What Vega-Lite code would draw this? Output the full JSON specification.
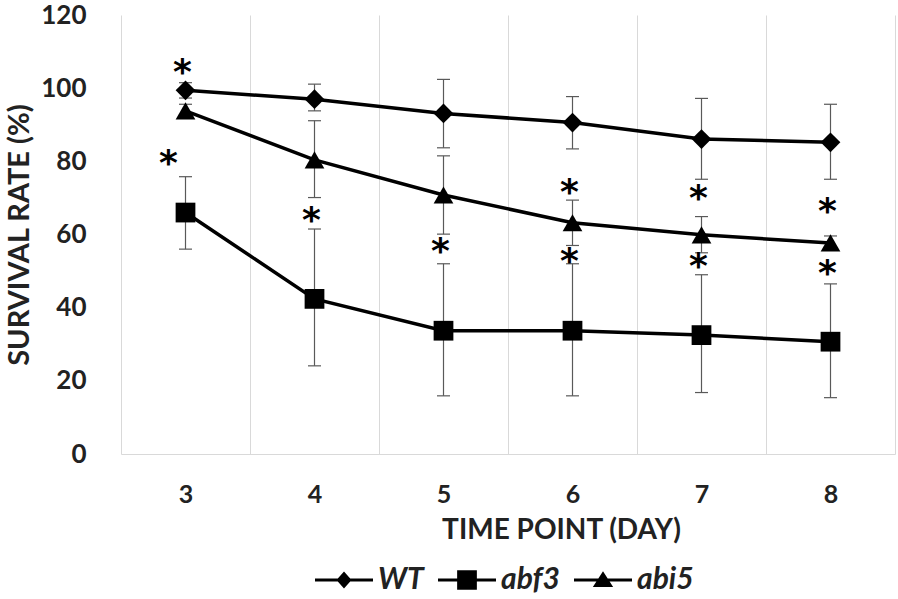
{
  "$schema": "https://vega.github.io/schema/vega-lite/v6.json",
  "width": 774,
  "height": 439,
  "autosize": {"type": "none"},
  "padding": {"left": 121, "top": 15, "right": 3, "bottom": 145},
  "background": "white",
  "config": {"view": {"stroke": null}, "font": "Lato"},
  "datasets": {
    "rates": [
      {"series": "WT", "day": 3, "mean": 99.4, "lo": 97.3, "hi": 101.5},
      {"series": "WT", "day": 4, "mean": 97.0, "lo": 93.8, "hi": 101.1},
      {"series": "WT", "day": 5, "mean": 93.1, "lo": 83.7, "hi": 102.4},
      {"series": "WT", "day": 6, "mean": 90.6, "lo": 83.4, "hi": 97.7},
      {"series": "WT", "day": 7, "mean": 86.1, "lo": 75.1, "hi": 97.2},
      {"series": "WT", "day": 8, "mean": 85.2, "lo": 75.1, "hi": 95.6},
      {"series": "abf3", "day": 3, "mean": 66.0, "lo": 56.0, "hi": 75.8},
      {"series": "abf3", "day": 4, "mean": 42.4, "lo": 24.1, "hi": 61.5},
      {"series": "abf3", "day": 5, "mean": 33.7, "lo": 15.9, "hi": 52.0},
      {"series": "abf3", "day": 6, "mean": 33.7, "lo": 15.9, "hi": 52.0},
      {"series": "abf3", "day": 7, "mean": 32.5, "lo": 16.8, "hi": 49.0},
      {"series": "abf3", "day": 8, "mean": 30.7, "lo": 15.4, "hi": 46.5},
      {"series": "abi5", "day": 3, "mean": 93.8, "lo": 91.8, "hi": 95.6},
      {"series": "abi5", "day": 4, "mean": 80.4, "lo": 70.1, "hi": 91.1},
      {"series": "abi5", "day": 5, "mean": 70.8, "lo": 60.1, "hi": 81.5},
      {"series": "abi5", "day": 6, "mean": 63.2, "lo": 57.0, "hi": 69.4},
      {"series": "abi5", "day": 7, "mean": 59.9, "lo": 55.0, "hi": 64.9},
      {"series": "abi5", "day": 8, "mean": 57.7, "lo": 55.8, "hi": 59.6}
    ],
    "stars": [
      {"day": 3, "value": 106.6, "side": "near"},
      {"day": 3, "value": 81.7, "side": "left"},
      {"day": 4, "value": 66.2, "side": "near"},
      {"day": 5, "value": 57.8, "side": "near"},
      {"day": 6, "value": 73.8, "side": "near"},
      {"day": 6, "value": 55.0, "side": "near"},
      {"day": 7, "value": 72.2, "side": "near"},
      {"day": 7, "value": 53.6, "side": "near"},
      {"day": 8, "value": 68.7, "side": "near"},
      {"day": 8, "value": 51.7, "side": "near"}
    ]
  },
  "resolve": {"scale": {"shape": "independent"}, "legend": {"shape": "independent"}},
  "layer": [
    {
      "data": {"name": "rates"},
      "mark": {"type": "rule", "color": "#595959", "strokeWidth": 1.2},
      "encoding": {
        "x": {
          "field": "day", "type": "quantitative",
          "scale": {"domain": [2.5, 8.5], "nice": false, "zero": false},
          "axis": {
            "values": [2.5, 3, 3.5, 4, 4.5, 5, 5.5, 6, 6.5, 7, 7.5, 8, 8.5],
            "labelExpr": "datum.value % 1 === 0 ? '' + datum.value : ''",
            "labelOverlap": false,
            "labelFlush": false,
            "grid": true,
            "gridColor": "#d9d9d9",
            "gridWidth": 1,
            "gridOpacity": {"condition": {"test": "datum.value % 1 === 0", "value": 0}, "value": 1},
            "ticks": false,
            "domainColor": "#d9d9d9",
            "domainWidth": 1,
            "labelFont": "Lato",
            "labelFontSize": 25,
            "labelFontWeight": "bold",
            "labelColor": "#222222",
            "labelPadding": 28,
            "title": "TIME POINT (DAY)",
            "titleFont": "Lato",
            "titleFontSize": 28,
            "titleFontWeight": "bold",
            "titleColor": "#222222",
            "titlePadding": 9,
            "titleX": 440,
            "titleAlign": "center"
          }
        },
        "y": {
          "field": "lo", "type": "quantitative",
          "scale": {"domain": [0, 120], "nice": false},
          "axis": {
            "values": [0, 20, 40, 60, 80, 100, 120],
            "grid": false,
            "domain": false,
            "ticks": false,
            "labelFlush": false,
            "labelAlign": "right",
            "labelBaseline": "middle",
            "labelFont": "Lato",
            "labelFontSize": 26,
            "labelFontWeight": "bold",
            "labelColor": "#222222",
            "labelPadding": 35,
            "title": "SURVIVAL RATE (%)",
            "titleFont": "Lato",
            "titleFontSize": 29,
            "titleFontWeight": "bold",
            "titleColor": "#222222",
            "titlePadding": 6
          }
        },
        "y2": {"field": "hi"}
      }
    },
    {
      "data": {"name": "rates"},
      "mark": {"type": "tick", "orient": "horizontal", "color": "#595959", "size": 13, "thickness": 1.2, "opacity": 1},
      "encoding": {
        "x": {"field": "day", "type": "quantitative"},
        "y": {"field": "lo", "type": "quantitative"}
      }
    },
    {
      "data": {"name": "rates"},
      "mark": {"type": "tick", "orient": "horizontal", "color": "#595959", "size": 13, "thickness": 1.2, "opacity": 1},
      "encoding": {
        "x": {"field": "day", "type": "quantitative"},
        "y": {"field": "hi", "type": "quantitative"}
      }
    },
    {
      "data": {"name": "rates"},
      "mark": {"type": "line", "color": "black", "strokeWidth": 3.5},
      "encoding": {
        "x": {"field": "day", "type": "quantitative"},
        "y": {"field": "mean", "type": "quantitative"},
        "detail": {"field": "series", "type": "nominal"}
      }
    },
    {
      "data": {"name": "rates"},
      "mark": {"type": "point", "filled": true, "opacity": 1, "color": "black", "size": 390},
      "encoding": {
        "x": {"field": "day", "type": "quantitative"},
        "y": {"field": "mean", "type": "quantitative"},
        "shape": {
          "field": "series", "type": "nominal",
          "scale": {"domain": ["WT", "abf3", "abi5"], "range": ["diamond", "square", "triangle-up"]},
          "legend": null
        }
      }
    },
    {
      "data": {"name": "rates"},
      "transform": [{"filter": "false"}],
      "mark": {"type": "point", "filled": true, "opacity": 1, "color": "black"},
      "encoding": {
        "x": {"field": "day", "type": "quantitative"},
        "y": {"field": "mean", "type": "quantitative"},
        "shape": {
          "field": "series", "type": "nominal",
          "scale": {
            "domain": ["WT", "abf3", "abi5"],
            "range": [
              "M-1,-0.05H1V0.05H-1ZM0,-0.29L0.26,0L0,0.29L-0.26,0Z",
              "M-1,-0.05H1V0.05H-1ZM-0.34,-0.34H0.34V0.34H-0.34Z",
              "M-1,-0.05H1V0.05H-1ZM0,-0.3L0.35,0.24L-0.35,0.24Z"
            ]
          },
          "legend": {
            "orient": "none",
            "legendX": 194,
            "legendY": 536,
            "direction": "horizontal",
            "title": null,
            "symbolSize": 3364,
            "symbolFillColor": "black",
            "symbolStrokeWidth": 0,
            "symbolOpacity": 1,
            "labelFont": "Lato",
            "labelFontSize": 30,
            "labelFontWeight": "bold",
            "labelFontStyle": "italic",
            "labelColor": "#222222",
            "labelOffset": 5,
            "columnPadding": 14
          }
        }
      }
    },
    {
      "data": {"name": "stars"},
      "transform": [{"filter": "datum.side === 'near'"}],
      "mark": {"type": "text", "font": "DejaVu Sans", "fontWeight": "bold", "fontSize": 36, "dy": 9, "dx": -3, "color": "black"},
      "encoding": {
        "x": {"field": "day", "type": "quantitative"},
        "y": {"field": "value", "type": "quantitative"},
        "text": {"value": "*"}
      }
    },
    {
      "data": {"name": "stars"},
      "transform": [{"filter": "datum.side === 'left'"}],
      "mark": {"type": "text", "font": "DejaVu Sans", "fontWeight": "bold", "fontSize": 36, "dy": 9, "dx": -17, "color": "black"},
      "encoding": {
        "x": {"field": "day", "type": "quantitative"},
        "y": {"field": "value", "type": "quantitative"},
        "text": {"value": "*"}
      }
    }
  ]
}
